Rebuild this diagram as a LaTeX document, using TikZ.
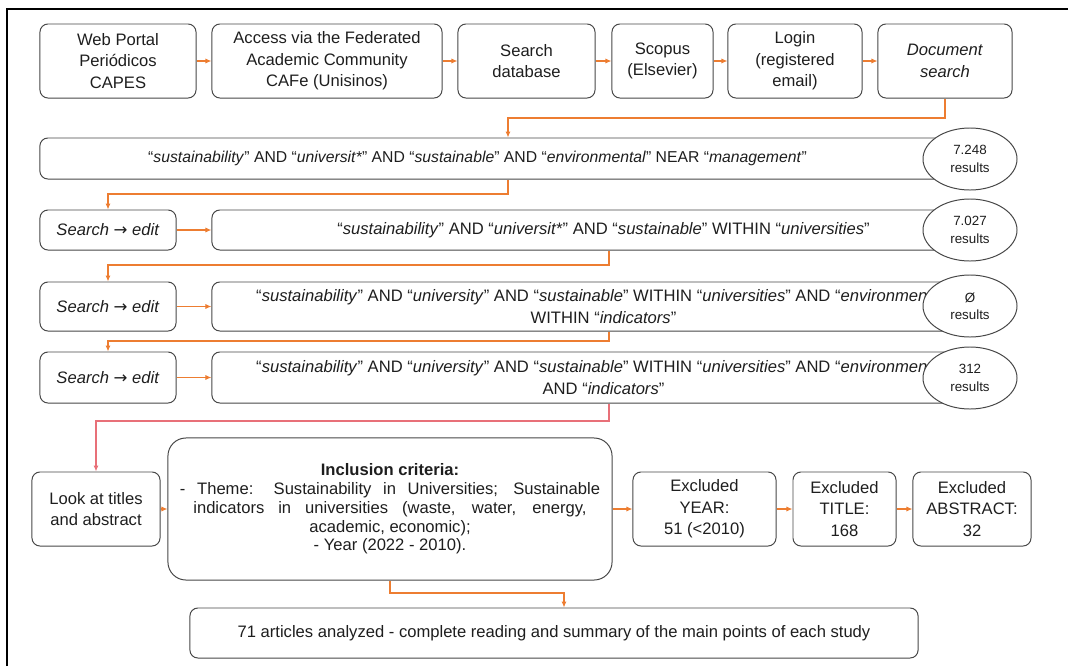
\documentclass[tikz,border=0pt]{standalone}
\usepackage{fontspec}
\setmainfont{Liberation Sans}
\newfontfamily\arrfont{DejaVu Sans}
\usepackage{xcolor}
\usepackage{tikz}
\usetikzlibrary{arrows.meta,positioning,calc,shapes.geometric}
\definecolor{zw}{RGB}{30,30,30}
\definecolor{gy}{RGB}{70,70,70}
\definecolor{or}{RGB}{237,125,49}
\definecolor{pk}{RGB}{232,112,120}
\newcommand{\SE}{\textit{Search {\arrfont →} edit}}
\tikzset{
  box/.style={draw=gy,line width=0.7pt,rounded corners=0.2cm,align=center,inner sep=1pt,text=zw,
    font=\fontsize{11.8}{15.4}\selectfont},
  res/.style={ellipse,draw=gy,line width=0.7pt,fill=white,align=center,inner sep=0pt,text=zw,
    minimum width=2.35cm,minimum height=1.55cm,font=\fontsize{9.5}{12.4}\selectfont},
  arr/.style={-{Latex[length=1.5mm,width=1.3mm]},draw=or,line width=0.8pt}
}

\begin{document}
\begin{tikzpicture}[x=0.025cm,y=-0.025cm]
  \useasboundingbox (0,0) rectangle (1068,666);
  % frame
  \draw[line width=1.3pt] (7,666) -- (7,9) -- (1068,9);

  % top row
  \node[box,minimum width=3.9cm,minimum height=1.85cm] (portal) at (118,61) {Web Portal\\Periódicos\\CAPES};
  \node[box,minimum width=5.75cm,minimum height=1.85cm] (cafe) at (327,61) {Access via the Federated\\Academic Community\\CAFe (Unisinos)};
  \node[box,minimum width=3.425cm,minimum height=1.85cm] (sdb) at (526.5,61) {Search\\database};
  \node[box,minimum width=2.525cm,minimum height=1.85cm] (scopus) at (662.5,61) {Scopus\\(Elsevier)};
  \node[box,minimum width=3.35cm,minimum height=1.85cm] (login) at (795,61) {Login\\(registered\\email)};
  \node[box,minimum width=3.35cm,minimum height=1.85cm] (docs) at (945,61) {\textit{Document}\\\textit{search}};

  \draw[arr] (portal) -- (cafe);
  \draw[arr] (cafe) -- (sdb);
  \draw[arr] (sdb) -- (scopus);
  \draw[arr] (scopus) -- (login);
  \draw[arr] (login) -- (docs);

  % search strings
  \node[box,minimum width=23.875cm,minimum height=1.025cm,font=\fontsize{11.2}{14}\selectfont] (q1) at (517.5,158.5)
    {“\textit{sustainability}” AND “\textit{universit*}” AND “\textit{sustainable}” AND “\textit{environmental}” NEAR “\textit{management}”\hspace{2cm}};
  \node[res] (r1) at (970,159) {7.248\\results};

  \node[box,minimum width=3.4cm,minimum height=1.0cm] (e1) at (108,230) {\SE};
  \node[box,minimum width=19.575cm,minimum height=1.0cm] (q2) at (603.5,230)
    {“\textit{sustainability}” AND “\textit{universit*}” AND “\textit{sustainable}” WITHIN “\textit{universities}”};
  \node[res] (r2) at (970,230) {7.027\\results};

  \node[box,minimum width=3.4cm,minimum height=1.225cm] (e2) at (108,306.5) {\SE};
  \node[box,minimum width=19.575cm,minimum height=1.225cm] (q3) at (603.5,306.5)
    {“\textit{sustainability}” AND “\textit{university}” AND “\textit{sustainable}” WITHIN “\textit{universities}” AND “\textit{environmental}”\\WITHIN “\textit{indicators}”};
  \node[res] (r3) at (970,306) {Ø\\results};

  \node[box,minimum width=3.4cm,minimum height=1.275cm] (e3) at (108,377.5) {\SE};
  \node[box,minimum width=19.575cm,minimum height=1.275cm] (q4) at (603.5,377.5)
    {“\textit{sustainability}” AND “\textit{university}” AND “\textit{sustainable}” WITHIN “\textit{universities}” AND “\textit{environmental}”\\AND “\textit{indicators}”};
  \node[res] (r4) at (970,378) {312\\results};

  \coordinate (b1) at (508,118);
  \coordinate (b2) at (508,194);
  \coordinate (b3) at (609,265);
  \coordinate (b4) at (609,341);
  \coordinate (b5) at (609,421);
  \draw[arr] (docs.south) |- (b1) -- (b1 |- q1.north);
  \draw[arr] (b2 |- q1.south) -- (b2) -| (e1.north);
  \draw[arr] (b3 |- q2.south) -- (b3) -| (e2.north);
  \draw[arr] (b4 |- q3.south) -- (b4) -| (e3.north);
  \draw[arr] (e1) -- (q2);
  \draw[arr] (e2) -- (q3);
  \draw[arr] (e3) -- (q4);

  % screening
  \node[box,minimum width=3.2cm,minimum height=1.85cm] (look) at (96,509) {Look at titles\\and abstract};
  \node[box,rounded corners=0.45cm,minimum width=11.1cm,minimum height=3.55cm,
    font=\fontsize{11.8}{13.4}\selectfont] (incl) at (390,509)
    {\textbf{Inclusion criteria:}\\\makebox[10.5cm][s]{- Theme: Sustainability in Universities; Sustainable}\\
     \makebox[9.83cm][s]{indicators in universities (waste, water, energy,}\\academic, economic);\\- Year (2022 - 2010).};
  \node[box,minimum width=3.575cm,minimum height=1.85cm] (exy) at (704.5,509) {Excluded\\YEAR:\\51 (<2010)};
  \node[box,minimum width=2.575cm,minimum height=1.85cm] (ext) at (844.5,509) {Excluded\\TITLE:\\168};
  \node[box,minimum width=2.95cm,minimum height=1.85cm] (exa) at (972,509) {Excluded\\ABSTRACT:\\32};
  \node[box,minimum width=18.2cm,minimum height=1.25cm] (final) at (554,633)
    {71 articles analyzed - complete reading and summary of the main points of each study};

  \coordinate (b6) at (564,593);
  \draw[arr,draw=pk] (b5 |- q4.south) -- (b5) -| (look.north);
  \draw[arr] (look) -- (incl);
  \draw[arr] (incl) -- (exy);
  \draw[arr] (exy) -- (ext);
  \draw[arr] (ext) -- (exa);
  \draw[arr] (incl.south) |- (b6) -- (b6 |- final.north);
\end{tikzpicture}
\end{document}
